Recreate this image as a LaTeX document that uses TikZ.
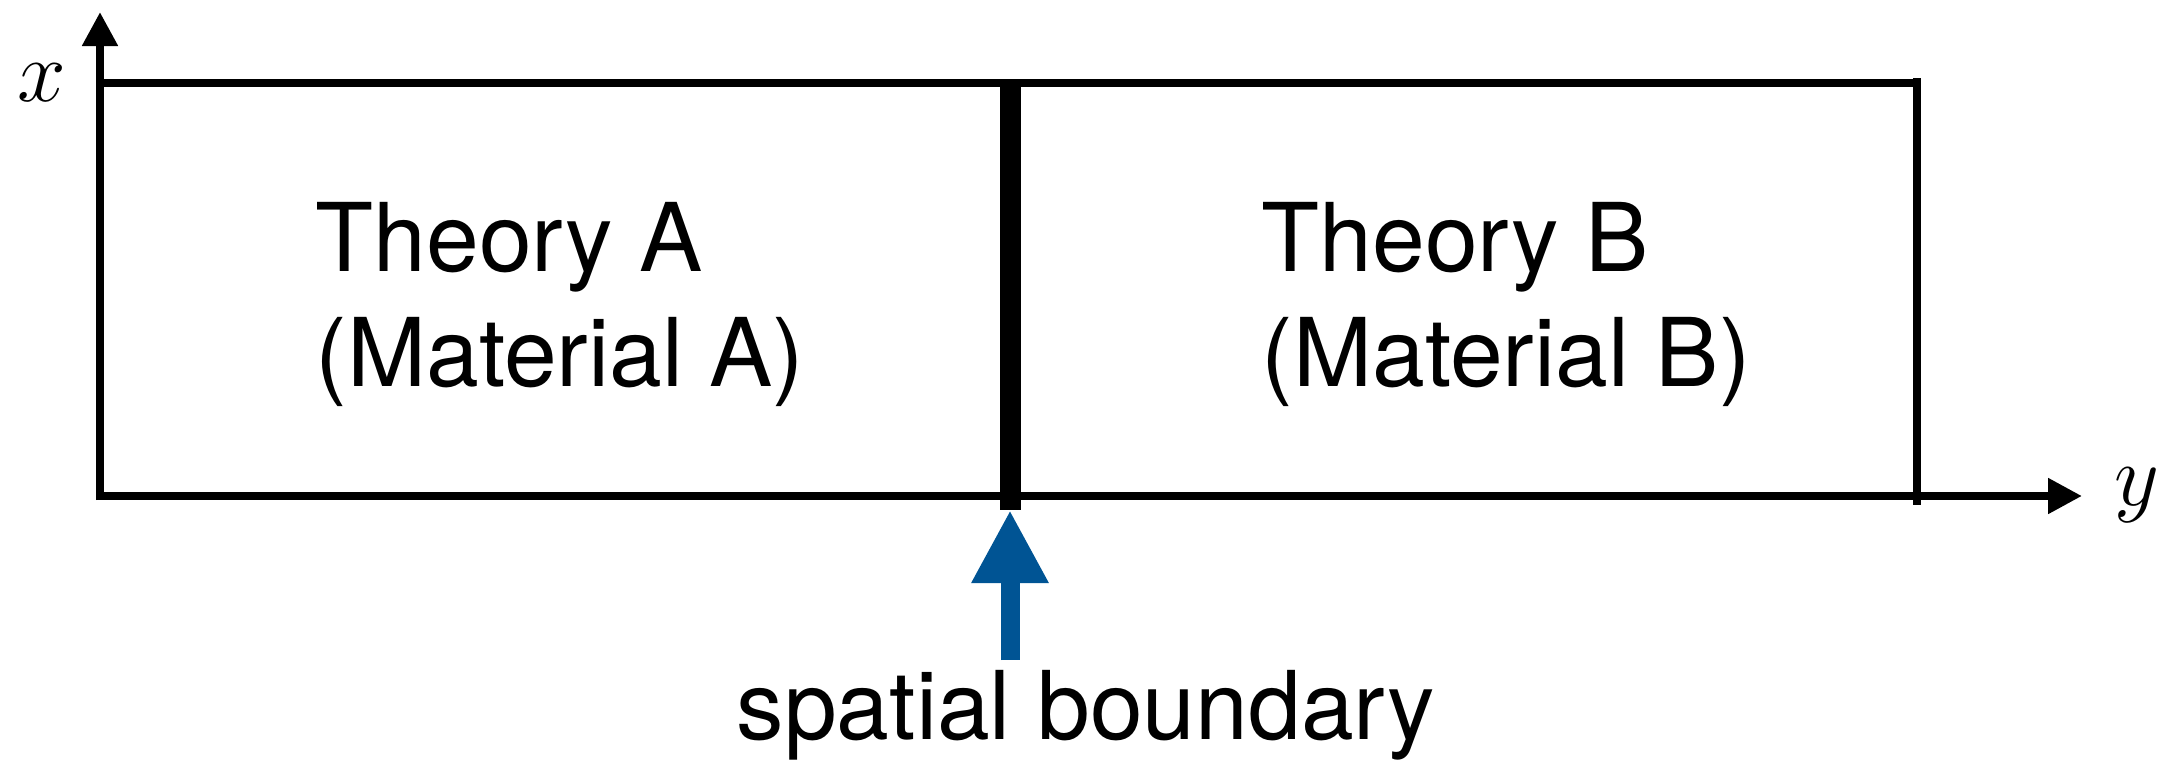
\documentclass[tikz,border=0pt]{standalone}
\usepackage{fontspec}
\setmainfont{TeX Gyre Heros}
\usetikzlibrary{arrows.meta}
\definecolor{boundaryblue}{RGB}{0,84,148}
\tikzset{
  frameline/.style={line width=0.8mm, black},
  axisline/.style={frameline, -{Triangle[length=3.4mm,width=3.4mm]}},
  wall/.style={line width=2.1mm, black},
  pointer/.style={line width=1.9mm, boundaryblue, -{Triangle[length=7.3mm,width=7.2mm]}},
  label/.style={inner sep=0pt, font=\fontsize{27pt}{32.7pt}\selectfont},
  axislabel/.style={inner sep=0pt, font=\fontsize{29pt}{34pt}\selectfont},
  region/.style={label, align=left, anchor=north west}
}
\begin{document}
\begin{tikzpicture}[x=0.1mm, y=-0.1mm]
  \useasboundingbox (0,0) rectangle (2166,767);
  % corners of the strip and the interface
  \coordinate (xtip) at (100,12);
  \coordinate (ytip) at (2082,496);
  \coordinate (tl) at (96,83);
  \coordinate (tr) at (1917,83);
  \coordinate (rtop) at (1917,78);
  \coordinate (rbot) at (1917,505);
  \coordinate (wtop) at (1010,83);
  \coordinate (wbot) at (1010,510);
  \coordinate (ptail) at (1010,660);
  \coordinate (phead) at (1010,510);
  % axes
  \draw[axisline] (100,500) -- (xtip);
  \draw[axisline] (96,496) -- (ytip);
  \node[axislabel] (xl) at (42,83) {$x$};
  \node[axislabel] (yl) at (2137,495) {$y$};
  % upper and right edges
  \draw[frameline] (tl) -- (tr);
  \draw[frameline] (rtop) -- (rbot);
  % interface between the two materials
  \draw[wall] (wtop) -- (wbot);
  % region labels
  \node[region] (ta) at (315,202) {Theory A\\(Material A)};
  \node[region] (tb) at (1261,202) {Theory B\\(Material B)};
  % boundary pointer
  \draw[pointer] (ptail) -- (phead);
  \node[label, anchor=base west] (sb) at (736,739) {spatial boundary};
\end{tikzpicture}
\end{document}
